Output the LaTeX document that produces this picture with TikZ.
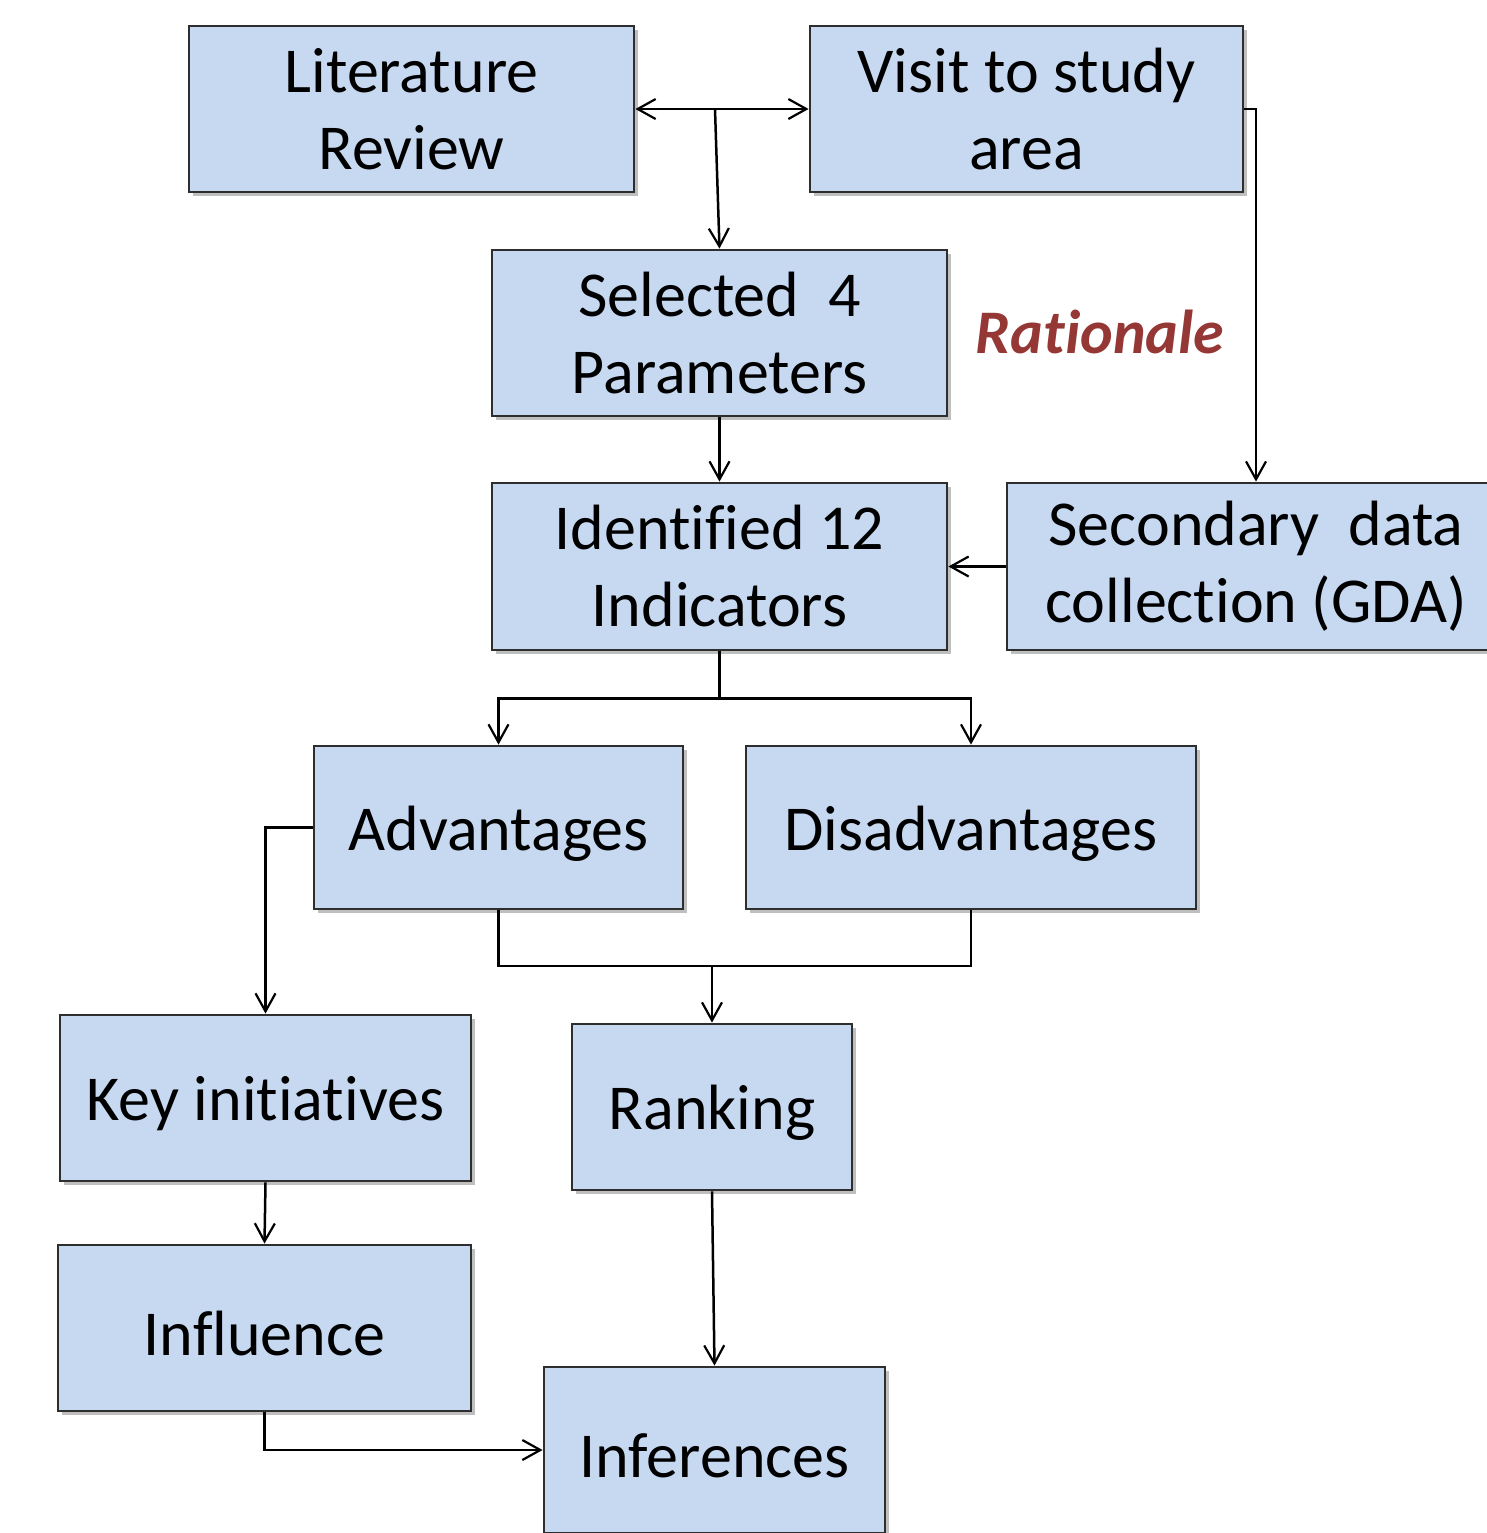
\documentclass[tikz,border=0pt]{standalone}
\usepackage{fontspec}
\setmainfont[Ligatures=NoCommon]{Carlito}
\usetikzlibrary{arrows.meta,shadows}
\definecolor{boxfill}{HTML}{C6D9F1}
\definecolor{boxline}{HTML}{2E2E2E}
\definecolor{ratred}{HTML}{953735}
\begin{document}
\begin{tikzpicture}[x=0.5pt,y=-0.5pt,
  box/.style={draw=boxline, line width=1.4pt, fill=boxfill, rectangle, inner sep=0pt,
    align=center, font=\fontsize{32}{38.5}\selectfont,
    execute at begin node={\rule{0pt}{28pt}},
    drop shadow={shadow xshift=2pt, shadow yshift=-2pt, opacity=0.25, fill=black}},
  conn/.style={line width=1.25pt, draw=black},
  arr/.style={conn, -{Straight Barb[length=9pt,width=10pt,line width=1.1pt]}},
  darr/.style={conn, {Straight Barb[length=9pt,width=10pt,line width=1.1pt]}-{Straight Barb[length=9pt,width=10pt,line width=1.1pt]}}
]
\useasboundingbox (0,0) rectangle (1487,1533);
\clip (0,0) rectangle (1487,1533);

\node[box, minimum width=222.5pt, minimum height=83pt] (lit) at (411.5,109) {Literature\\Review};
\node[box, minimum width=216.5pt, minimum height=83pt] (visit) at (1026.5,109) {Visit to study\\area};
\node[box, minimum width=227.5pt, minimum height=83pt] (sel) at (719.5,333) {Selected~~4\\Parameters};
\node[box, minimum width=227.5pt, minimum height=83.5pt] (ident) at (719.5,566.5) {Identified 12\\Indicators};
\node[box, minimum width=249pt, minimum height=83.5pt] (sec) at (1256,566.5) {Secondary~~data\\collection (GDA)};
\node[box, minimum width=184.5pt, minimum height=81.5pt] (adv) at (498.5,827.5) {Advantages};
\node[box, minimum width=225pt, minimum height=81.5pt] (dis) at (971,827.5) {Disadvantages};
\node[box, minimum width=205.5pt, minimum height=83pt] (key) at (265.5,1098) {Key initiatives};
\node[box, minimum width=140pt, minimum height=83pt] (rank) at (712,1107) {Ranking};
\node[box, minimum width=206.5pt, minimum height=83pt] (infl) at (264.5,1328) {Influence};
\node[box, minimum width=170.5pt, minimum height=83pt] (inf) at (714.5,1450) {Inferences};

\node[text=ratred, font=\fontsize{31}{37}\selectfont\bfseries\itshape] (rat) at (1100,332) {Rationale};

% connectors
\draw[darr] (lit.east) -- (visit.west);
\coordinate (j0) at (715,109);
\draw[arr] (j0) -- (sel.north);
\draw[arr] (visit.east) -| (sec.north);
\draw[arr] (sel.south) -- (ident.north);
\draw[arr] (sec.west) -- (ident.east);
\draw[conn] (ident.south) -- ++(0,47) coordinate (j1);
\draw[arr] (j1) -| (adv.north);
\draw[arr] (j1) -| (dis.north);
\draw[arr] (adv.west) -| (key.north);
\coordinate (j2) at (712,966);
\draw[conn] (adv.south) |- (j2) -| (dis.south);
\draw[arr] (j2) -- (rank.north);
\draw[arr] (key.south) -- (infl.north);
\draw[arr] (rank.south) -- (inf.north);
\draw[arr] (infl.south) |- (inf.west);
\end{tikzpicture}
\end{document}
